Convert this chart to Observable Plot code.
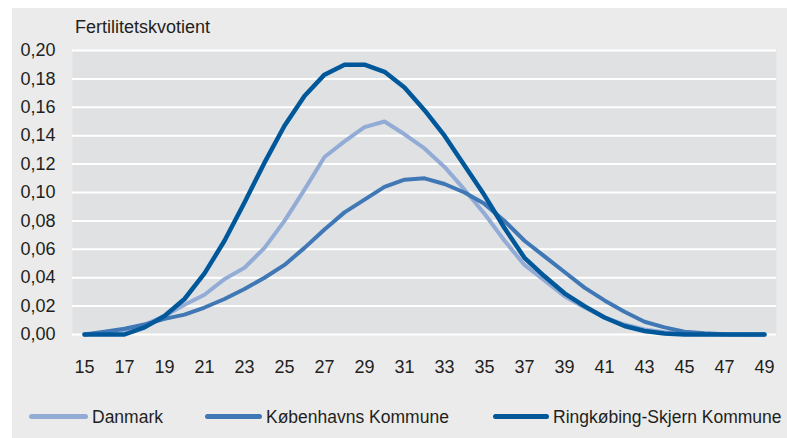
<!DOCTYPE html>
<html>
<head>
<meta charset="utf-8">
<script src="https://cdn.jsdelivr.net/npm/d3@7"></script>
<script src="https://cdn.jsdelivr.net/npm/@observablehq/plot@0.6"></script>
<style>
  html, body { margin: 0; padding: 0; background: #ffffff; }
  #panel { position: absolute; left: 12px; top: 8px; width: 775px; height: 430px; background: #ebebec; overflow: hidden; }
  #panel svg { position: absolute; left: 0; top: 0; }
  .txt { position: absolute; white-space: nowrap; color: #231f20; line-height: 21px; }
  .sw { position: absolute; height: 5px; border-radius: 3px; }
</style>
</head>
<body>
<div id="panel"></div>
<script>
// ---- data ----
const ages = [15,16,17,18,19,20,21,22,23,24,25,26,27,28,29,30,31,32,33,34,35,36,37,38,39,40,41,42,43,44,45,46,47,48,49];
const danmark = [0,0.001,0.003,0.007,0.013,0.021,0.028,0.039,0.047,0.061,0.080,0.102,0.125,0.136,0.146,0.150,0.141,0.131,0.118,0.102,0.085,0.066,0.049,0.038,0.027,0.019,0.012,0.007,0.0035,0.0016,0.0007,0.0002,0,0,0];
const kobenhavn = [0,0.002,0.004,0.007,0.011,0.014,0.019,0.025,0.032,0.040,0.049,0.061,0.074,0.086,0.095,0.104,0.109,0.110,0.106,0.100,0.092,0.080,0.066,0.055,0.044,0.033,0.024,0.016,0.009,0.005,0.002,0.0008,0.0002,0,0];
const ringkobing = [0,0,0,0.005,0.013,0.025,0.043,0.066,0.093,0.121,0.147,0.168,0.183,0.190,0.190,0.185,0.174,0.158,0.140,0.119,0.098,0.075,0.054,0.041,0.029,0.020,0.012,0.006,0.0025,0.0007,0,0,0,0,0];
const seriesNames = ["Danmark", "Københavns Kommune", "Ringkøbing-Skjern Kommune"];
const seriesColors = ["#92acd6", "#3f78b5", "#00589a"];
const yTicks = [0,0.02,0.04,0.06,0.08,0.10,0.12,0.14,0.16,0.18,0.20];
const xTicks = [15,17,19,21,23,25,27,29,31,33,35,37,39,41,43,45,47,49];
const yTitle = "Fertilitetskvotient";

// ---- font selection ----
function hasFont(name) {
  const c = document.createElement("canvas").getContext("2d");
  const t = "Ringkøbing-Skjern Kommune 0123";
  c.font = "20px monospace"; const a = c.measureText(t).width;
  c.font = `20px "${name}", monospace`; const b = c.measureText(t).width;
  return a !== b;
}
let FONT, FS, LFS;
if (hasFont("Liberation Sans Narrow")) { FONT = '"Liberation Sans Narrow", sans-serif'; FS = 21; LFS = 21; }
else { FONT = '"Liberation Sans", Arial, sans-serif'; FS = 18; LFS = 17.5; }

const fmt = d => d.toFixed(2).replace(".", ",");
const panel = document.getElementById("panel");

const plot = Plot.plot({
  width: 775,
  height: 380,
  marginLeft: 60,
  marginRight: 11,
  marginTop: 42,
  marginBottom: 54,
  style: { background: "transparent", fontFamily: FONT, fontSize: FS + "px", color: "#231f20" },
  x: { type: "point", domain: ages, padding: 0.5 },
  y: { domain: [0, 0.2] },
  marks: [
    Plot.frame({ fill: "#e0e1e3", stroke: "none" }),
    Plot.ruleY(yTicks, { stroke: "#ffffff", strokeWidth: 2 }),
    Plot.axisY(yTicks, { tickSize: 0, tickPadding: 17, tickFormat: fmt, label: null }),
    Plot.axisX(xTicks, { tickSize: 0, tickPadding: 26, label: null }),
    Plot.line(ages, { x: ages, y: danmark, stroke: seriesColors[0], strokeWidth: 4 }),
    Plot.line(ages, { x: ages, y: kobenhavn, stroke: seriesColors[1], strokeWidth: 4 }),
    Plot.line(ages, { x: ages, y: ringkobing, stroke: seriesColors[2], strokeWidth: 4.5 })
  ]
});
panel.appendChild(plot);

function addText(str, left, top, size) {
  const d = document.createElement("div");
  d.className = "txt";
  d.textContent = str;
  d.style.left = left + "px";
  d.style.top = top + "px";
  d.style.fontFamily = FONT;
  d.style.fontSize = size + "px";
  panel.appendChild(d);
  return d;
}
addText(yTitle, 63, 9, FS);

const swX = [17, 193, 481];
const swW = [59, 57, 56];
const txX = [80, 254, 541];
seriesNames.forEach((name, i) => {
  const s = document.createElement("div");
  s.className = "sw";
  s.style.left = swX[i] + "px";
  s.style.width = swW[i] + "px";
  s.style.top = "405.5px";
  s.style.background = seriesColors[i];
  panel.appendChild(s);
  addText(name, txX[i], 399, LFS);
});
</script>
</body>
</html>
